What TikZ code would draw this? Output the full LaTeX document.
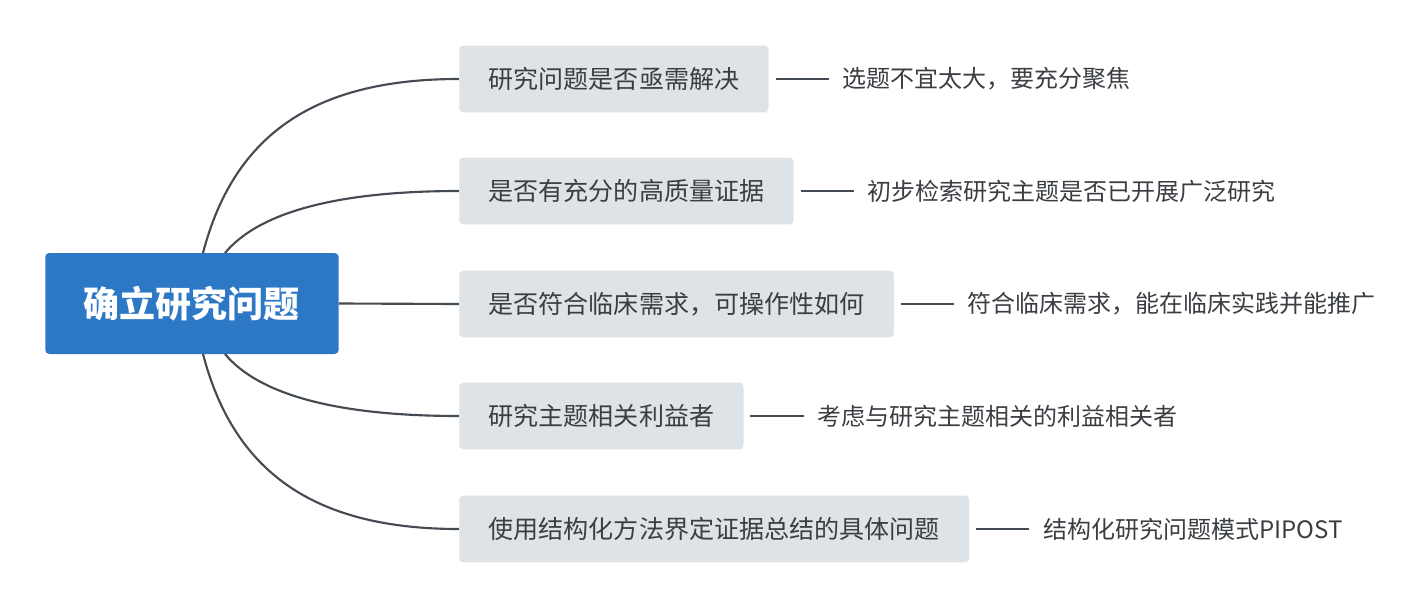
\documentclass[tikz,border=0pt]{standalone}
\usepackage{fontspec}
\setmainfont{Noto Sans CJK SC}
\definecolor{rootBlue}{HTML}{2C78C5}
\definecolor{boxGray}{HTML}{DDE3E6}
\definecolor{lineGray}{HTML}{454B52}
\definecolor{textGray}{HTML}{3A3E42}
\begin{document}
\begin{tikzpicture}[x=0.75pt, y=-0.75pt,
    rootStyle/.style={fill=rootBlue, rounded corners=3pt, text=white, font=\fontsize{27}{30}\selectfont\bfseries, minimum width=220pt, minimum height=75.75pt, anchor=west},
    topicStyle/.style={fill=boxGray, rounded corners=3pt, text=textGray, font=\fontsize{18.8}{21}\selectfont, inner xsep=22pt, minimum height=50pt, anchor=west},
    leafStyle/.style={text=textGray, font=\fontsize{18}{20}\selectfont, inner sep=0pt, anchor=west},
    linkStyle/.style={draw=lineGray, line width=1.6pt}]
    \useasboundingbox (0,0) rectangle (1420,607);
    \node[rootStyle](root) at (45,303.5) {确立研究问题};
    \coordinate (r1) at (203,253);
    \coordinate (r2) at (225,253);
    \coordinate (r4) at (225,354);
    \coordinate (r5) at (203,354);

    \node[topicStyle](t1) at (459,79) {研究问题是否亟需解决};
    \node[topicStyle](t2) at (459,191) {是否有充分的高质量证据};
    \node[topicStyle](t3) at (459,304) {是否符合临床需求，可操作性如何};
    \node[topicStyle](t4) at (459,416) {研究主题相关利益者};
    \node[topicStyle](t5) at (459,529) {使用结构化方法界定证据总结的具体问题};

    \node[leafStyle](l1) at ([xshift=55]t1.east) {选题不宜太大，要充分聚焦};
    \node[leafStyle](l2) at ([xshift=55]t2.east) {初步检索研究主题是否已开展广泛研究};
    \node[leafStyle](l3) at ([xshift=55]t3.east) {符合临床需求，能在临床实践并能推广};
    \node[leafStyle](l4) at ([xshift=55]t4.east) {考虑与研究主题相关的利益相关者};
    \node[leafStyle](l5) at ([xshift=55]t5.east) {结构化研究问题模式PIPOST};

    \draw[linkStyle] (r1) .. controls (235,130) and (320,79) .. (t1.west);
    \draw[linkStyle] (r2) .. controls (265,205) and (360,191) .. (t2.west);
    \draw[linkStyle] (root.east) -- (t3.west);
    \draw[linkStyle] (r4) .. controls (265,402) and (360,416) .. (t4.west);
    \draw[linkStyle] (r5) .. controls (235,477) and (320,529) .. (t5.west);
    \foreach \i in {1,...,5}
        \draw[draw=lineGray, line width=1pt] ([xshift=5]t\i.east) -- ([xshift=-10]l\i.west);
\end{tikzpicture}
\end{document}
